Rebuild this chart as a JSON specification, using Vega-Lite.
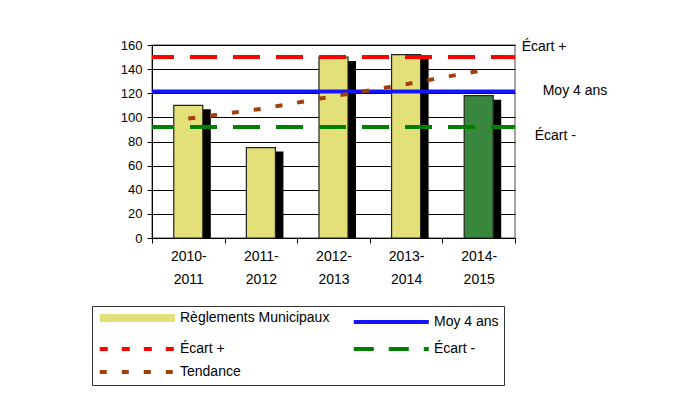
{
  "$schema": "https://vega.github.io/schema/vega-lite/v6.json",
  "width": 363,
  "height": 193,
  "autosize": "none",
  "padding": {"left": 152, "top": 45, "right": 184, "bottom": 182},
  "background": "white",
  "config": {
    "font": "Liberation Sans",
    "view": {"stroke": "#888888", "strokeWidth": 1.5},
    "axis": {"labelFont": "Liberation Sans", "labelColor": "black", "domainColor": "black", "tickColor": "black"}
  },
  "datasets": {
    "bars": [
      {"periode": "2010-2011", "value": 110, "series": "Règlements Municipaux", "annee": "passée"},
      {"periode": "2011-2012", "value": 75, "series": "Règlements Municipaux", "annee": "passée"},
      {"periode": "2012-2013", "value": 150, "series": "Règlements Municipaux", "annee": "passée"},
      {"periode": "2013-2014", "value": 152, "series": "Règlements Municipaux", "annee": "passée"},
      {"periode": "2014-2015", "value": 118, "series": "Règlements Municipaux", "annee": "courante"}
    ],
    "refs": [
      {"series": "Moy 4 ans", "value": 121.5},
      {"series": "Écart +", "value": 150},
      {"series": "Écart -", "value": 92}
    ],
    "trend": [
      {"periode": "2010-2011", "value": 99, "series": "Tendance"},
      {"periode": "2011-2012", "value": 107, "series": "Tendance"},
      {"periode": "2012-2013", "value": 117.5, "series": "Tendance"},
      {"periode": "2013-2014", "value": 127.5, "series": "Tendance"},
      {"periode": "2014-2015", "value": 138.5, "series": "Tendance"}
    ]
  },
  "encoding": {
    "y": {
      "field": "value", "type": "quantitative",
      "scale": {"domain": [0, 160]},
      "axis": {
        "title": null, "values": [0, 20, 40, 60, 80, 100, 120, 140, 160], "labelFontSize": 13, "labelOverlap": false,
        "grid": true, "gridColor": "black", "gridOpacity": 1, "gridWidth": 1, "tickSize": 5, "labelPadding": 5
      }
    }
  },
  "layer": [
    {
      "data": {"name": "bars"},
      "mark": {"type": "bar", "color": "black", "width": {"band": 0.4}, "xOffset": 8, "yOffset": 4, "clip": true},
      "encoding": {
        "x": {
          "field": "periode", "type": "nominal",
          "scale": {"paddingInner": 0, "paddingOuter": 0},
          "axis": {
            "title": null, "labelAngle": 0, "labelFontSize": 14,
            "labelExpr": "[slice(datum.label,0,5), slice(datum.label,5)]",
            "labelLineHeight": 23, "tickBand": "extent", "tickSize": 5, "labelPadding": 6, "grid": false
          }
        }
      }
    },
    {
      "data": {"name": "bars"},
      "transform": [{"filter": "datum.annee === 'passée'"}],
      "mark": {"type": "bar", "width": {"band": 0.4}, "color": "#e3e07a", "stroke": "#222222", "strokeWidth": 1.2},
      "encoding": {
        "x": {"field": "periode", "type": "nominal"}
      }
    },
    {
      "data": {"name": "bars"},
      "transform": [{"filter": "datum.annee === 'courante'"}],
      "mark": {"type": "bar", "width": {"band": 0.4}, "color": "#38873c", "stroke": "#222222", "strokeWidth": 1.2},
      "encoding": {
        "x": {"field": "periode", "type": "nominal"}
      }
    },
    {
      "data": {"name": "refs"},
      "transform": [{"filter": "datum.series !== 'Moy 4 ans'"}],
      "mark": {"type": "rule", "strokeWidth": 4, "strokeDash": [27, 16], "strokeDashOffset": 3},
      "encoding": {
        "color": {
          "field": "series", "type": "nominal",
          "scale": {
            "domain": ["Règlements Municipaux", "Moy 4 ans", "Écart +", "Écart -", "Tendance"],
            "range": ["#e3e07a", "#1414ff", "#ff0000", "#008000", "#a0410d"]
          },
          "legend": {
            "title": null, "orient": "none", "legendX": -60, "legendY": 261,
            "direction": "horizontal", "columns": 2, "symbolSize": 36,
            "symbolType": "M-1.4,0H23.6",
            "labelFontSize": 14, "labelColor": "black", "labelFont": "Liberation Sans",
            "strokeColor": "#333333", "fillColor": "white", "padding": 5,
            "rowPadding": 7, "columnPadding": 15, "labelOffset": 69
          }
        }
      }
    },
    {
      "data": {"name": "refs"},
      "transform": [{"filter": "datum.series === 'Moy 4 ans'"}],
      "mark": {"type": "rule", "strokeWidth": 4},
      "encoding": {
        "color": {"field": "series", "type": "nominal"}
      }
    },
    {
      "data": {"name": "trend"},
      "mark": {"type": "line"},
      "encoding": {
        "x": {"field": "periode", "type": "nominal"},
        "color": {"field": "series", "type": "nominal"},
        "strokeDash": {
          "field": "series", "type": "nominal",
          "scale": {
            "domain": ["Règlements Municipaux", "Moy 4 ans", "Écart +", "Écart -", "Tendance"],
            "range": [[1, 0], [1, 0], [8, 14], [20, 15], [7, 15]]
          }
        },
        "strokeWidth": {
          "field": "series", "type": "nominal",
          "scale": {
            "type": "ordinal",
            "domain": ["Règlements Municipaux", "Moy 4 ans", "Écart +", "Écart -", "Tendance"],
            "range": [8, 4, 4, 4, 4]
          }
        }
      }
    },
    {
      "data": {"name": "refs"},
      "transform": [{"filter": "datum.series === 'Écart +'"}],
      "mark": {"type": "text", "align": "left", "baseline": "middle", "dx": 43, "dy": -10, "fontSize": 14, "font": "Liberation Sans", "color": "black"},
      "encoding": {
        "x": {"datum": "2014-2015", "type": "nominal"},
        "text": {"field": "series"}
      }
    },
    {
      "data": {"name": "refs"},
      "transform": [{"filter": "datum.series === 'Moy 4 ans'"}],
      "mark": {"type": "text", "align": "left", "baseline": "middle", "dx": 64, "dy": 0, "fontSize": 14, "font": "Liberation Sans", "color": "black"},
      "encoding": {
        "x": {"datum": "2014-2015", "type": "nominal"},
        "text": {"field": "series"}
      }
    },
    {
      "data": {"name": "refs"},
      "transform": [{"filter": "datum.series === 'Écart -'"}],
      "mark": {"type": "text", "align": "left", "baseline": "middle", "dx": 56, "dy": 9, "fontSize": 14, "font": "Liberation Sans", "color": "black"},
      "encoding": {
        "x": {"datum": "2014-2015", "type": "nominal"},
        "text": {"field": "series"}
      }
    }
  ]
}
